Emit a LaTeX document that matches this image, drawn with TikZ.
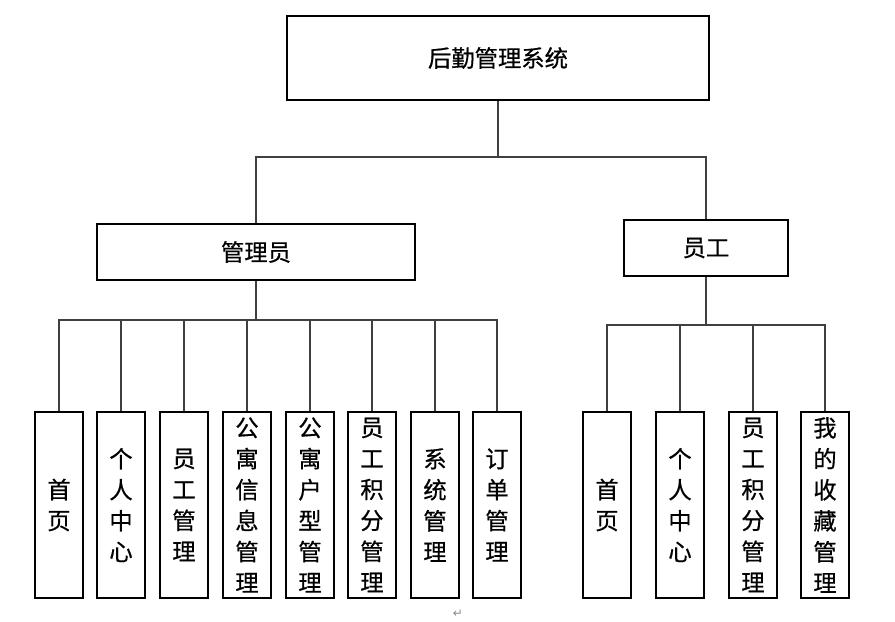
\documentclass[tikz,border=0pt]{standalone}
\usepackage{fontspec}
\setmainfont[FakeBold=0.6,BoldFont={Noto Sans CJK SC}]{Noto Sans CJK SC}
\newfontfamily\symfont{DejaVu Sans}
\begin{document}
\begin{tikzpicture}[x=0.75pt,y=-0.75pt,
  box/.style={draw=black,line width=0.8pt,inner sep=0pt,align=center,font=\fontsize{17.5}{23.25}\selectfont\bfseries},
  leaf/.style={box,minimum width=36pt,minimum height=139.5pt},
  conn/.style={draw=black!75,line width=0.8pt}]
\useasboundingbox[fill=white] (0,0) rectangle (895,621);
\node[box,minimum width=316.5pt,minimum height=63pt] (top) at (498,58) {后勤管理系统};
\node[box,minimum width=238.5pt,minimum height=42pt] (adm) at (256,252) {管理员};
\node[box,minimum width=123pt,minimum height=42pt] (emp) at (706,248) {员工};
% admin leaves
\node[leaf] (a1) at (59,505) {首\\页};
\node[leaf] (a2) at (121,505) {个\\人\\中\\心};
\node[leaf] (a3) at (184,505) {员\\工\\管\\理};
\node[leaf] (a4) at (247,505) {公\\寓\\信\\息\\管\\理};
\node[leaf] (a5) at (310,505) {公\\寓\\户\\型\\管\\理};
\node[leaf] (a6) at (372,505) {员\\工\\积\\分\\管\\理};
\node[leaf] (a7) at (435,505) {系\\统\\管\\理};
\node[leaf] (a8) at (497,505) {订\\单\\管\\理};
% employee leaves
\node[leaf] (e1) at (607,505) {首\\页};
\node[leaf] (e2) at (680,505) {个\\人\\中\\心};
\node[leaf] (e3) at (753,505) {员\\工\\积\\分\\管\\理};
\node[leaf] (e4) at (825,505) {我\\的\\收\\藏\\管\\理};
% connectors
\coordinate (b0) at (498,157);
\draw[conn] (top.south) -- (b0);
\draw[conn] (b0) -| (adm.north);
\draw[conn] (b0) -| (emp.north);
\coordinate (b1) at (256,320);
\draw[conn] (adm.south) -- (b1);
\foreach \n in {a1,a2,a3,a4,a5,a6,a7,a8} \draw[conn] (b1) -| (\n.north);
\coordinate (b2) at (706,325);
\draw[conn] (emp.south) -- (b2);
\foreach \n in {e1,e2,e3,e4} \draw[conn] (b2) -| (\n.north);
\node[font=\symfont\fontsize{9}{9}\selectfont,text=black!45,inner sep=0pt] (ret) at (458,614) {↵};
\end{tikzpicture}
\end{document}
